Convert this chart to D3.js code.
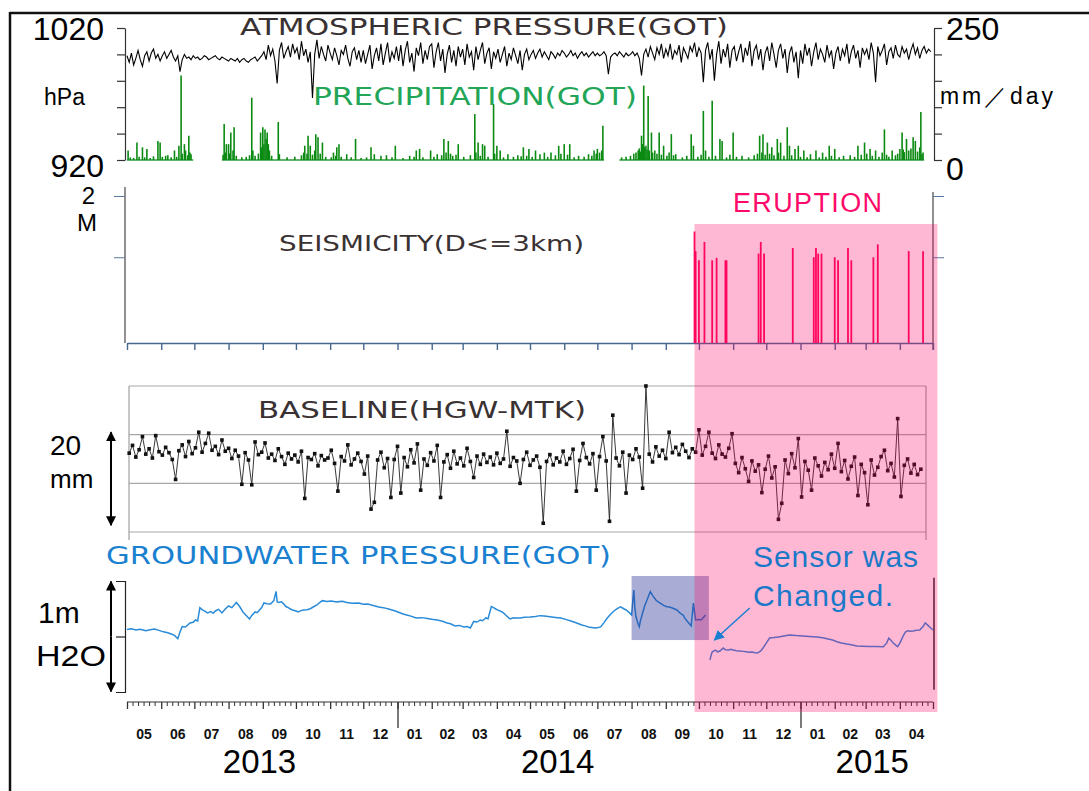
<!DOCTYPE html>
<html><head><meta charset="utf-8">
<script src="https://cdn.jsdelivr.net/npm/d3@7"></script>
<style>body{margin:0;background:#fff}svg{display:block}text{font-family:"Liberation Sans",Arial,Helvetica,sans-serif}</style>
</head><body><svg id="c" width="1089" height="791"></svg>
<script>
// ---------------- DATA ----------------
const startDate = "2013-05-01", endDate = "2015-05-01";
const eruptionDate = "2014-09-27";
const monthLabels = ["05","06","07","08","09","10","11","12","01","02","03","04","05","06","07","08","09","10","11","12","01","02","03","04"];
const yearLabels = ["2013","2014","2015"];
const yearLabelDates = ["2013-08-29","2014-05-26","2015-03-07"];
const pressureTicks = [920,940,960,980,1000,1020];
const precipTicks = [0,50,100,150,200,250];

// atmospheric pressure (hPa), one value every 2 days from startDate
const pressureStepDays = 2;
const pressure = [
999,994,1001,992,997,1003,996,991,999,1002,995,1001,1004,997,1000,995,
999,1002,997,1000,1003,998,995,999,987,996,1000,997,998,996,999,
997,998,996,997,999,998,996,997,998,999,997,996,998,997,996,
995,997,996,995,997,994,996,997,995,994,996,997,998,995,997,999,
1002,996,1007,999,1004,995,978,1003,1009,997,1002,1006,998,1008,1001,
1005,996,1010,999,1004,994,1002,967,1000,1011,997,1006,1000,995,1007,
1001,996,1005,999,992,1003,1000,1007,997,991,1002,1005,996,1003,994,
1003,993,1000,1007,989,999,1005,995,1008,992,1001,1009,994,1002,997,1006,
995,1007,991,1003,1010,994,1001,987,1005,999,1009,993,1003,996,1006,
1008,990,1002,1009,995,1004,986,1000,1007,994,1003,991,1006,998,
1004,992,1008,998,1002,988,1006,996,1003,1009,993,1001,1005,989,1002,997,
1004,994,1000,1006,991,1001,996,1005,999,993,1003,988,1000,1004,996,
1000,1003,997,1001,1004,998,1002,999,996,1002,1000,997,1001,999,1003,
1001,998,1000,1003,999,1001,997,1000,1002,999,1001,998,1000,1002,999,
1001,999,1000,1002,999,985,998,1000,1001,999,1002,1000,998,1001,999,1000,
1002,999,1001,997,984,1000,1004,998,1006,1001,996,1005,1000,1008,997,
1004,999,1008,996,1003,1000,1007,994,1005,1001,997,1006,1002,1009,998,
1005,1001,979,1003,1009,996,1004,980,1000,1010,993,1004,998,1008,990,1003,
1006,995,1002,1008,994,1005,999,1010,991,1003,1007,996,1004,988,1001,
1006,995,1009,1000,990,1003,1008,997,1004,986,1001,1006,994,1002,982,
1003,993,1008,999,1005,991,1002,1009,996,1004,1000,994,1007,998,1003,989,
1001,1006,995,1004,999,1008,993,1002,1007,997,1003,990,1005,1000,
1004,996,1009,1001,979,1006,999,1003,1008,992,1002,1005,997,1007,1000,
998,1006,1001,1004,996,1003,1008,1000,1005,997,1003,1006,1001,1004,1002
];

// daily precipitation: [day since startDate, mm/day]
const precip = [
[1,18],[3,5],[6,4],[9,33],[11,6],[14,24],[16,5],[18,21],[21,4],[24,7],[28,36],[30,33],[32,6],[35,8],[37,9],[40,5],[43,18],[45,6],[47,27],[49,160],[50,12],[52,30],[53,18],[55,9],[56,46],[57,14],[58,11],
[87,10],[88,68],[89,14],[90,30],[92,30],[93,12],[94,52],[96,18],[97,62],[99,8],[104,5],[108,6],[111,9],[113,118],[114,18],[116,8],[119,12],[121,52],[122,24],[123,62],[124,30],[125,58],[126,40],[127,52],[128,30],[129,18],[131,8],[137,72],[138,11],
[145,5],[152,6],[158,9],[160,14],[161,27],[163,12],[164,46],[166,27],[168,10],[170,18],[171,49],[173,43],[175,12],[177,33],[180,6],[185,5],[187,14],[189,8],[190,24],[192,30],[194,6],[199,11],[203,5],[207,40],[212,4],[217,5],[221,24],[224,11],[230,8],[235,9],[240,5],[243,27],[250,4],[256,8],[260,6],[262,18],[265,21],[268,5],[275,18],[278,6],[281,11],[285,9],[287,40],[289,14],[291,36],[293,12],[295,8],[298,10],[300,30],[305,6],[311,9],[315,87],[316,14],[318,33],[320,8],[322,30],[324,27],[327,6],[332,106],[333,12],[335,27],[338,18],[341,5],[345,11],[350,6],[354,9],[357,7],[359,24],[362,8],[364,21],[367,6],[370,18],[374,11],[378,14],[381,6],[384,14],[388,9],[391,27],[393,12],[396,30],[399,10],[401,30],[405,5],[409,8],[414,6],[418,11],[421,8],[423,18],[425,12],[426,21],[428,14],[430,18],[431,65],
[448,5],[452,6],[456,8],[459,12],[461,14],[463,18],[464,22],[465,16],[466,46],[467,30],[468,141],[469,24],[470,27],[471,20],[472,121],[473,18],[475,52],[476,14],[478,18],[480,12],[482,52],[484,10],[486,27],[489,8],[491,14],[493,49],[495,9],[497,11],[503,5],[507,8],[511,49],[513,27],[517,6],[520,10],[522,93],[524,18],[527,6],[530,112],[533,8],[537,40],[539,36],[543,5],[546,10],[549,52],[552,6],[557,8],[563,5],[568,9],[571,12],[573,46],[575,14],[576,49],[578,10],[580,33],[582,12],[584,24],[586,9],[589,40],[590,14],[592,33],[595,8],[598,62],[600,27],[602,9],[605,21],[608,27],[610,6],[613,18],[616,5],[619,11],[624,18],[627,5],[630,14],[633,6],[636,27],[638,8],[641,21],[645,5],[649,8],[655,9],[659,6],[662,27],[665,10],[668,33],[670,12],[673,21],[675,8],[678,18],[681,6],[684,14],[686,58],[688,10],[690,6],[693,18],[696,9],[698,12],[700,21],[702,52],[703,20],[704,15],[706,40],[708,18],[710,22],[712,43],[714,36],[716,16],[718,24],[719,91],[720,11],[721,14]
];
// periods with precipitation records [first day, last day]
const precipCoverage = [[0,60],[86,432],[446,722]];

// seismicity (D<=3km)
const quakeDates = ["2014-09-27","2014-09-28","2014-10-01","2014-10-06","2014-10-13","2014-10-17","2014-10-25","2014-10-26","2014-11-24","2014-11-26","2014-11-29","2014-12-25","2015-01-13","2015-01-15","2015-01-17","2015-01-20","2015-02-01","2015-02-04","2015-02-13","2015-02-16","2015-03-08","2015-03-12","2015-04-09","2015-04-22"];
const quakeMags = [1.42,1.10,0.95,1.25,0.95,0.99,0.95,0.95,1.06,1.25,1.06,1.15,1.00,1.15,1.06,1.06,1.00,0.95,1.15,0.95,1.00,1.21,1.10,1.10];

// baseline HGW-MTK (mm, relative), one value every 3 days from day 2
const baselineStartDay = 2, baselineStepDays = 3;
const baseline = [
6.2,7.8,5.4,6.9,9.6,6.0,7.1,5.2,9.8,6.5,
5.8,7.4,6.3,4.9,0.8,6.7,7.9,5.5,8.6,6.1,
7.3,10.5,6.4,8.2,10.3,6.8,7.6,5.9,8.9,6.6,
7.2,5.1,6.8,5.6,-0.2,6.3,4.8,-0.3,8.5,5.9,
6.4,8.3,5.2,6.0,4.7,7.1,5.5,3.9,6.2,5.0,
5.8,4.4,6.6,-3.1,5.3,4.9,6.1,3.6,5.7,4.8,
5.2,6.8,4.1,-1.6,5.5,4.6,7.9,3.8,5.0,6.2,
4.5,1.9,5.6,-5.3,-3.9,4.8,6.4,3.2,5.1,-2.9,
4.9,7.6,-2.0,5.3,3.4,6.9,4.2,8.1,-1.4,5.0,
3.7,6.3,4.6,7.8,-2.9,4.4,5.9,3.1,6.6,4.0,
5.2,3.6,7.2,4.5,1.2,5.6,3.9,6.0,4.3,5.4,
3.8,6.2,4.1,5.0,10.7,3.5,5.3,4.6,0.0,4.9,
6.4,3.7,4.8,5.6,3.3,-8.2,4.5,5.9,3.8,5.2,
4.4,6.6,3.9,5.1,7.0,-1.6,4.7,8.2,5.3,4.0,
6.1,-1.4,5.5,9.6,4.6,-7.8,14.0,5.2,3.6,6.4,
-2.0,5.8,4.9,7.1,5.4,-1.0,20.0,6.0,4.4,7.5,
5.6,6.8,5.1,10.5,6.3,7.4,5.9,8.0,6.6,5.3,
7.1,6.4,11.0,5.8,7.6,10.5,6.2,5.1,7.9,6.0,
5.4,7.2,10.2,4.1,2.2,5.3,3.0,0.4,4.6,2.5,
3.8,-1.9,2.9,5.6,1.1,3.4,-7.4,-4.1,4.8,2.0,
6.1,3.2,9.2,-2.8,4.5,2.7,-1.4,5.2,3.6,1.5,
4.3,2.8,6.0,3.1,8.2,2.4,4.7,0.9,3.5,5.4,
-2.5,3.9,2.2,-4.4,4.8,1.7,3.3,5.5,6.8,2.6,
4.1,1.3,13.3,-2.7,3.7,5.0,2.1,3.9,1.8,2.9
];
const baselineGrid = [-10,0,10,20];

// groundwater pressure (m H2O, relative): [day since startDate, value]
const gwOld = [
[0,.564],[4,.570],[8,.559],[12,.566],[17,.552],[21,.560],[25,.568],[29,.555],[33,.542],[37,.534],[40,.523],[43,.510],[46,.480],[48,.541],[50,.589],[53,.585],[57,.622],[60,.628],[62,.649],[64,.640],[66,.760],[68,.742],[70,.730],[73,.712],[76,.725],[78,.709],[80,.730],[83,.745],[86,.712],[89,.748],[92,.775],[95,.760],[99,.806],[102,.770],[105,.721],[108,.690],[111,.658],[113,.690],[116,.721],[118,.715],[120,.739],[122,.760],[124,.802],[127,.795],[130,.793],[133,.823],[135,.906],[136,.815],[137,.806],[140,.812],[142,.793],[144,.770],[146,.760],[148,.748],[150,.739],[153,.730],[155,.721],[158,.735],[160,.739],[163,.741],[166,.750],[169,.768],[172,.784],[175,.810],[177,.823],[181,.815],[185,.820],[190,.812],[195,.818],[199,.806],[204,.800],[210,.802],[214,.790],[218,.793],[223,.780],[228,.766],[232,.760],[237,.748],[243,.730],[250,.703],[255,.690],[262,.667],[267,.670],[272,.662],[276,.655],[281,.649],[285,.640],[290,.622],[293,.615],[297,.595],[301,.600],[305,.586],[308,.590],[311,.577],[314,.636],[317,.630],[320,.649],[322,.642],[325,.667],[327,.660],[330,.769],[332,.760],[334,.748],[336,.738],[338,.730],[341,.712],[343,.694],[345,.675],[347,.658],[350,.668],[352,.667],[356,.667],[360,.674],[365,.676],[370,.680],[374,.688],[378,.685],[383,.678],[388,.672],[393,.667],[398,.652],[402,.640],[406,.626],[409,.615],[412,.604],[415,.596],[418,.586],[421,.582],[424,.577],[427,.580],[429,.586],[432,.625],[435,.667],[438,.700],[441,.730],[444,.752],[447,.768],[450,.750],[452,.739],[455,.715],[457,.694],[459,.919],[460,.760],[461,.678],[463,.610],[464,.588],[465,.640],[467,.712],[469,.780],[471,.829],[473,.880],[474,.904],[476,.870],[479,.829],[481,.812],[484,.793],[486,.780],[489,.768],[491,.765],[494,.757],[496,.748],[498,.739],[500,.720],[502,.703],[504,.690],[505,.667],[508,.630],[511,.595],[512,.700],[513,.802],[514,.720],[515,.649],[518,.652],[520,.649],[522,.672],[524,.694]
];
const gwNew = [
[528,.288],[529,.330],[530,.360],[532,.372],[533,.378],[535,.362],[537,.369],[540,.396],[542,.380],[545,.378],[547,.385],[549,.378],[552,.372],[555,.369],[558,.366],[561,.363],[563,.358],[566,.360],[569,.354],[571,.351],[574,.370],[576,.396],[579,.440],[582,.486],[586,.490],[590,.495],[595,.505],[600,.514],[606,.508],[612,.505],[618,.500],[625,.495],[630,.488],[635,.477],[639,.468],[643,.453],[647,.442],[652,.432],[656,.425],[661,.414],[666,.412],[672,.410],[678,.411],[685,.408],[688,.440],[690,.486],[692,.465],[694,.441],[696,.425],[698,.408],[700,.440],[703,.505],[705,.540],[707,.552],[710,.548],[712,.550],[715,.556],[718,.559],[721,.590],[723,.622],[725,.605],[727,.586],[730,.559]
];
const sensorBox = {from:"2014-08-01", to:"2014-10-10", low:0.468, high:1.045};
const sensorArrow = {fromDay:564, fromVal:0.757, toDay:532, toVal:0.468};

// ---------------- CHART ----------------
const parse = d3.utcParse("%Y-%m-%d");
const t0 = parse(startDate), t1 = parse(endDate);
const dayDate = d => new Date(t0.getTime() + d*864e5);
const x = d3.scaleUtc().domain([t0,t1]).range([127,933]);
const svg = d3.select("#c");
const DARK = "#3a3232";
const WIDE = '"DejaVu Sans","Liberation Sans",Arial,sans-serif';

const yP = d3.scaleLinear().domain([920,1020]).range([160,28]);
const yR = d3.scaleLinear().domain([0,250]).range([160,28]);
const yM = d3.scaleLinear().domain([-0.4,2]).range([343,196]);
const yB = d3.scaleLinear().domain([-10,20]).range([532,386]);
const yG = d3.scaleLinear().domain([0,1]).range([692,581]);

// defs
const defs = svg.append("defs");
defs.append("clipPath").attr("id","clipTop").append("rect").attr("x",126).attr("y",20).attr("width",806).attr("height",150);
const mk = defs.append("marker").attr("id","ah").attr("viewBox","0 0 10 10").attr("refX",9).attr("refY",5)
  .attr("markerWidth",5).attr("markerHeight",5).attr("orient","auto-start-reverse").attr("markerUnits","strokeWidth");
mk.append("path").attr("d","M0,0L10,5L0,10z").attr("fill","#000");
const mk2 = defs.append("marker").attr("id","ahb").attr("viewBox","0 0 10 10").attr("refX",9).attr("refY",5)
  .attr("markerWidth",7).attr("markerHeight",7).attr("orient","auto").attr("markerUnits","strokeWidth");
mk2.append("path").attr("d","M0,0L10,5L0,10z").attr("fill","#1a7fd0");

function txt(s, px, py, size, opt={}) {
  const t = svg.append("text").attr("x",px).attr("y",py).attr("font-size",size).attr("fill",opt.fill||"#000").text(s);
  if (opt.anchor) t.attr("text-anchor",opt.anchor);
  if (opt.len) t.attr("textLength",opt.len).attr("lengthAdjust",opt.adj||"spacing");
  if (opt.weight) t.attr("font-weight",opt.weight);
  if (opt.family) t.style("font-family",opt.family);
  return t;
}

// frame
svg.append("line").attr("x1",10).attr("x2",1089).attr("y1",13).attr("y2",13).attr("stroke","#111").attr("stroke-width",2.5);
svg.append("line").attr("x1",10).attr("x2",10).attr("y1",12).attr("y2",791).attr("stroke","#111").attr("stroke-width",2.5);

// ---- Panel 1: pressure + precipitation
const gTop = svg.append("g");
precipCoverage.forEach(([a,b]) => gTop.append("line").attr("x1",x(dayDate(a))).attr("x2",x(dayDate(b)))
  .attr("y1",yR(0)).attr("y2",yR(0)).attr("stroke","#2a9a3a").attr("stroke-width",1.5));
gTop.selectAll("line.pr").data(precip).join("line").attr("class","pr")
  .attr("x1",d=>x(dayDate(d[0]))).attr("x2",d=>x(dayDate(d[0])))
  .attr("y1",yR(0)).attr("y2",d=>yR(d[1])).attr("stroke","#0b8a12").attr("stroke-width",1.6);
const pLine = d3.line().x((d,i)=>x(dayDate(i*pressureStepDays))).y(d=>yP(d));
gTop.append("path").datum(pressure).attr("d",pLine).attr("fill","none").attr("stroke","#000").attr("stroke-width",1.1)
  .attr("clip-path","url(#clipTop)");
svg.append("g").attr("transform","translate(125,0)").attr("color","#333")
  .call(d3.axisLeft(yP).tickValues(pressureTicks).tickSize(8).tickSizeOuter(0).tickFormat(""))
  .call(g=>g.selectAll("path,line").attr("stroke-width",1.2));
svg.append("g").attr("transform","translate(934,0)").attr("color","#333")
  .call(d3.axisRight(yR).tickValues(precipTicks).tickSize(8).tickSizeOuter(0).tickFormat(""))
  .call(g=>g.selectAll("path,line").attr("stroke-width",1.2));
txt("1020",104,40,32,{anchor:"end"});
txt("920",104,177,32,{anchor:"end"});
txt("hPa",44,105,23);
txt("250",946,40,32);
txt("0",946,180,32);
txt("mm／day",940,104,23,{len:113});
txt("ATMOSPHERIC PRESSURE(GOT)",240,35,23,{fill:DARK,len:488,adj:"spacingAndGlyphs",family:WIDE});
txt("PRECIPITATION(GOT)",313,105,24,{fill:"#22a556",len:324,adj:"spacingAndGlyphs",family:WIDE});

// ---- Panel 2: seismicity
svg.append("line").attr("x1",125).attr("x2",125).attr("y1",187).attr("y2",343).attr("stroke","#555").attr("stroke-width",1.3);
svg.append("g").attr("transform","translate(125,0)").attr("color","#5878a0")
  .call(d3.axisLeft(yM).tickValues([1,2]).tickSize(11).tickFormat(""))
  .call(g=>g.select(".domain").remove());
svg.append("line").attr("x1",933).attr("x2",933).attr("y1",192).attr("y2",350).attr("stroke","#555").attr("stroke-width",1.3);
svg.append("g").attr("transform","translate(933,0)").attr("color","#5878a0")
  .call(d3.axisRight(yM).tickValues([1,2]).tickSize(11).tickFormat(""))
  .call(g=>g.select(".domain").remove());
svg.append("g").attr("transform",`translate(0,${yM(-0.4)})`).attr("color","#46688f")
  .call(d3.axisBottom(x).ticks(d3.utcMonth.every(1)).tickSize(7).tickSizeOuter(0).tickFormat(""))
  .call(g=>g.selectAll("path,line").attr("stroke-width",1.4));
svg.selectAll("line.eq").data(quakeDates).join("line").attr("class","eq")
  .attr("x1",d=>x(parse(d))).attr("x2",d=>x(parse(d)))
  .attr("y1",yM(-0.4)).attr("y2",(d,i)=>yM(quakeMags[i])).attr("stroke","#ff0a5a").attr("stroke-width",1.8);
txt("2",95,204,24,{anchor:"end"});
txt("M",87,231,24,{anchor:"middle"});
txt("SEISMICITY(D<=3km)",279,251,21,{fill:DARK,len:305,adj:"spacingAndGlyphs",family:WIDE});

// ---- Panel 3: baseline
const bx0 = 129, bx1 = 926;
svg.selectAll("line.bg").data(baselineGrid).join("line").attr("class","bg")
  .attr("x1",bx0).attr("x2",bx1).attr("y1",d=>yB(d)).attr("y2",d=>yB(d)).attr("stroke","#a8a8a8").attr("stroke-width",1.2);
svg.append("line").attr("x1",bx0).attr("x2",bx0).attr("y1",yB(20)).attr("y2",yB(-10)+8).attr("stroke","#a0a0a0").attr("stroke-width",1.2);
svg.append("line").attr("x1",bx1).attr("x2",bx1).attr("y1",yB(20)).attr("y2",yB(-10)+8).attr("stroke","#a0a0a0").attr("stroke-width",1.2);
const bDate = i => dayDate(baselineStartDay + i*baselineStepDays);
svg.append("path").datum(baseline).attr("d",d3.line().x((d,i)=>x(bDate(i))).y(d=>yB(d)))
  .attr("fill","none").attr("stroke","#222").attr("stroke-width",0.9);
svg.selectAll("rect.bl").data(baseline).join("rect").attr("class","bl")
  .attr("x",(d,i)=>x(bDate(i))-1.8).attr("y",d=>yB(d)-1.8).attr("width",3.6).attr("height",3.6).attr("fill","#111");
svg.append("line").attr("x1",111).attr("x2",111).attr("y1",yB(1.5)).attr("y2",yB(10.5))
  .attr("stroke","#000").attr("stroke-width",2).attr("marker-end","url(#ah)");
svg.append("line").attr("x1",111).attr("x2",111).attr("y1",yB(1.5)).attr("y2",yB(-8.6))
  .attr("stroke","#000").attr("stroke-width",2).attr("marker-end","url(#ah)");
txt("20",50,455,28);
txt("mm",50,488,26);
txt("BASELINE(HGW-MTK)",258,418,23,{fill:DARK,len:328,adj:"spacingAndGlyphs",family:WIDE});

// ---- Panel 4: groundwater
const gwLine = d3.line().x(d=>x(dayDate(d[0]))).y(d=>yG(d[1]));
svg.append("path").datum(gwOld).attr("d",gwLine).attr("fill","none").attr("stroke","#2a8bd8").attr("stroke-width",1.5);
svg.append("path").datum(gwNew).attr("d",gwLine).attr("fill","none").attr("stroke","#2a8bd8").attr("stroke-width",1.5);
svg.append("g").attr("transform","translate(125,0)").attr("color","#222")
  .call(d3.axisLeft(yG).tickValues([0.5]).tickSize(9).tickSizeOuter(9).tickFormat(""))
  .call(g=>g.selectAll("path,line").attr("stroke-width",1.2));
svg.append("line").attr("x1",934).attr("x2",934).attr("y1",yG(1.03)).attr("y2",yG(0.02)).attr("stroke","#222").attr("stroke-width",1.5);
svg.append("line").attr("x1",111).attr("x2",111).attr("y1",yG(0.5)).attr("y2",yG(0.995))
  .attr("stroke","#000").attr("stroke-width",2).attr("marker-end","url(#ah)");
svg.append("line").attr("x1",111).attr("x2",111).attr("y1",yG(0.5)).attr("y2",yG(0.005))
  .attr("stroke","#000").attr("stroke-width",2).attr("marker-end","url(#ah)");
txt("1m",38,623,30);
txt("H2O",36,666,30,{len:70,adj:"spacingAndGlyphs"});
txt("GROUNDWATER PRESSURE(GOT)",106,564,24,{fill:"#1a80d0",len:505,adj:"spacingAndGlyphs",family:WIDE});

// ---- bottom time axis
const axY = 702;
svg.append("line").attr("x1",x(t0)).attr("x2",x(t1)).attr("y1",axY).attr("y2",axY).attr("stroke","#333").attr("stroke-width",1.2);
const months = d3.utcMonth.range(t0,t1);
const minor = [];
months.forEach(m => [6,11,16,21,26].forEach(d => minor.push(new Date(Date.UTC(m.getUTCFullYear(), m.getUTCMonth(), d)))));
svg.append("g").attr("transform",`translate(0,${axY})`).attr("color","#333")
  .call(d3.axisBottom(x).tickValues(minor).tickSize(4).tickSizeOuter(0).tickFormat(""))
  .call(g=>g.select(".domain").remove());
svg.append("g").attr("transform",`translate(0,${axY})`).attr("color","#333")
  .call(d3.axisBottom(x).tickValues(months.concat([t1])).tickSize(7).tickSizeOuter(0).tickFormat(""))
  .call(g=>g.select(".domain").remove()).call(g=>g.selectAll("line").attr("stroke-width",1.3));
svg.append("g").attr("transform",`translate(0,${axY})`).attr("color","#333")
  .call(d3.axisBottom(x).tickValues(months.filter(m=>m.getUTCMonth()===0)).tickSize(26).tickSizeOuter(0).tickFormat(""))
  .call(g=>g.select(".domain").remove()).call(g=>g.selectAll("line").attr("stroke-width",1.3));
months.forEach((m,i) => {
  const mid = new Date((m.getTime() + d3.utcMonth.offset(m,1).getTime())/2);
  txt(monthLabels[i], x(mid), 739, 14, {anchor:"middle", weight:"bold", fill:"#111"});
});
yearLabels.forEach((y,i) => txt(y, x(parse(yearLabelDates[i])), 773, 33, {anchor:"middle"}));

// ---- overlays
svg.append("rect").attr("x",x(parse(sensorBox.from))).attr("width",x(parse(sensorBox.to))-x(parse(sensorBox.from)))
  .attr("y",yG(sensorBox.high)).attr("height",yG(sensorBox.low)-yG(sensorBox.high))
  .attr("fill","rgb(40,50,150)").attr("opacity",0.4);
const xe = x(parse(eruptionDate));
svg.append("rect").attr("x",xe).attr("width",x(parse("2015-05-05"))-xe).attr("y",224).attr("height",712-224)
  .attr("fill","rgb(255,0,100)").attr("opacity",0.28);
txt("ERUPTION",733,212,27,{fill:"#ff0a6a",len:149});
svg.append("line").attr("x1",x(dayDate(sensorArrow.fromDay))).attr("y1",yG(sensorArrow.fromVal))
  .attr("x2",x(dayDate(sensorArrow.toDay))).attr("y2",yG(sensorArrow.toVal))
  .attr("stroke","#1a7fd0").attr("stroke-width",1.5).attr("marker-end","url(#ahb)");
txt("Sensor was",753,567,30,{fill:"#1a78c8",len:165});
txt("Changed.",753,606,30,{fill:"#1a78c8",len:140});
</script></body></html>
